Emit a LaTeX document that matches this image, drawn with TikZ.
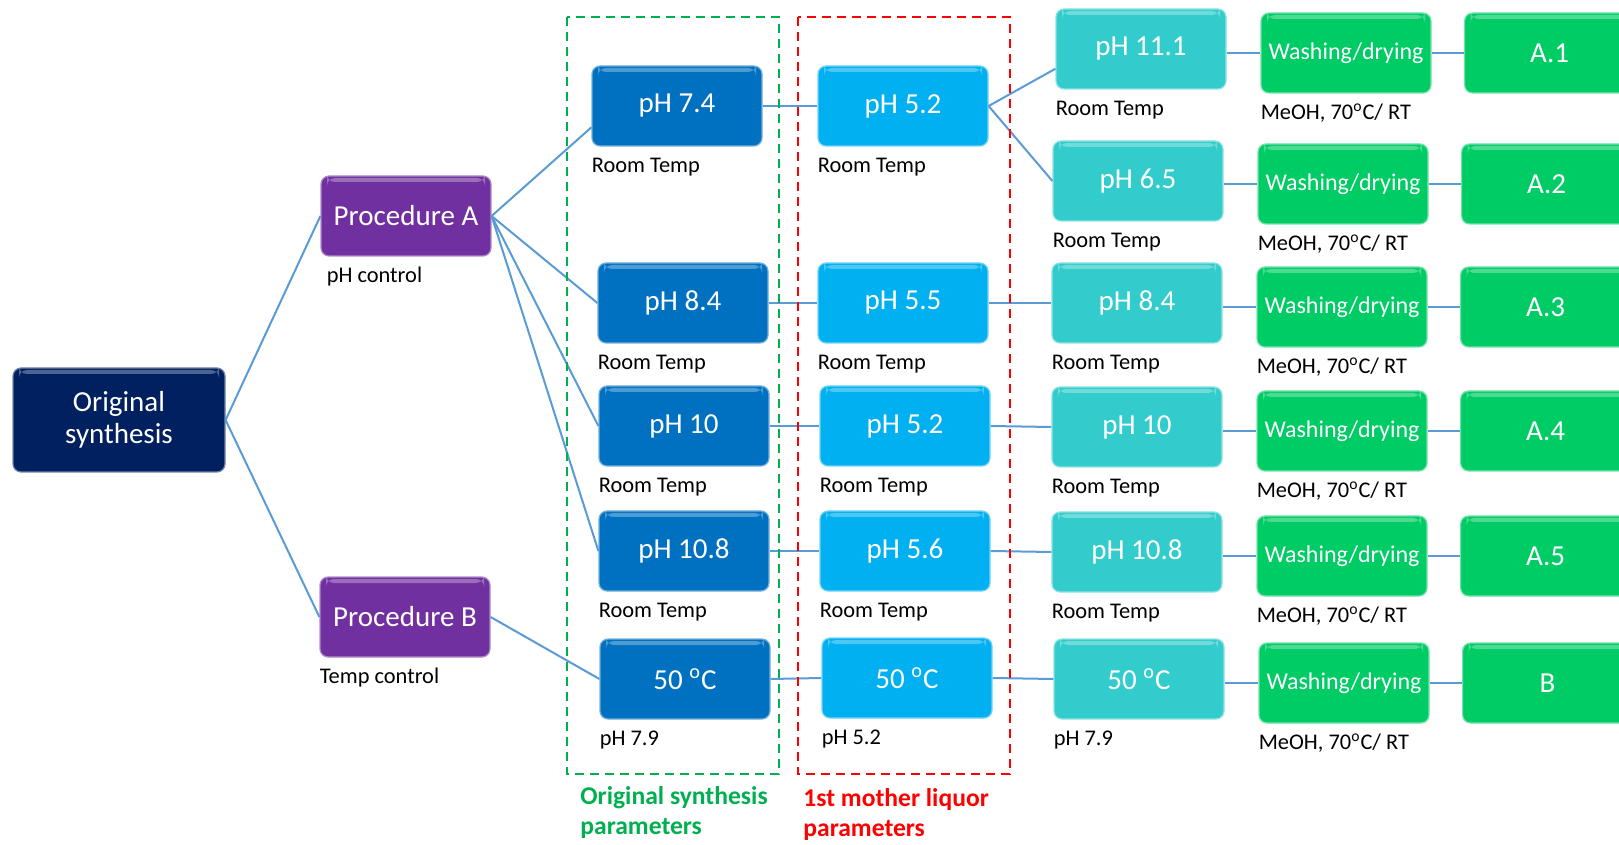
\documentclass[tikz,border=0pt]{standalone}
\usepackage{fontspec}
\setmainfont{Carlito}
\definecolor{navy}{HTML}{002060}
\definecolor{procpurple}{HTML}{7030A0}
\definecolor{origblue}{HTML}{0070C0}
\definecolor{motherblue}{HTML}{00B0F0}
\definecolor{thirdteal}{HTML}{33CCCC}
\definecolor{washgreen}{HTML}{00CC66}
\definecolor{linkblue}{HTML}{5B9BD5}
\definecolor{framegreen}{HTML}{00B050}
\definecolor{framered}{HTML}{FF0000}
\newcommand{\finlabel}[1]{\noindent\makebox[85pt]{#1}}
\tikzset{
  box/.style={rectangle, rounded corners=4pt, inner sep=0pt, fill=#1, draw=#1!55!white, line width=0.6pt,
    text=white, font=\fontsize{14.5}{16}\selectfont, minimum height=40pt,
    path picture={\fill[white, opacity=0.3] ([xshift=3pt,yshift=-1pt]path picture bounding box.north west) rectangle ([xshift=-3pt,yshift=-3pt]path picture bounding box.north east);}},
  widebox/.style={box=#1, minimum width=85pt},
  finalbox/.style={box=washgreen, anchor=west, text width=110pt, align=left},
  notetext/.style={anchor=west, inner sep=0pt, font=\fontsize{11.2}{13}\selectfont, text height=1.5ex, text depth=.25ex},
  linkline/.style={draw=linkblue, line width=1pt},
  dashframe/.style={dash pattern=on 4.5pt off 3pt, line width=1.2pt},
  captiontext/.style={anchor=west, align=left, inner sep=0pt, font=\bfseries\fontsize{12.8}{15}\selectfont},
}
\begin{document}
\begin{tikzpicture}[x=0.5pt, y=-0.5pt]
\useasboundingbox (0,0) rectangle (1619,845);
\clip (0,0) rectangle (1619,845);
% start and the two procedures
\node[box=navy, minimum width=106pt, minimum height=52pt, align=center] (orig) at (119,420) {Original\\synthesis};
\node[widebox=procpurple] (procA) at (406,216) {Procedure A};
\node[widebox=procpurple] (procB) at (405,617) {Procedure B};
\node[notetext] (procAn) at ([xshift=3pt,yshift=-10pt]procA.south west) {pH control};
\node[notetext] (procBn) at ([yshift=-10pt]procB.south west) {Temp control};
% original synthesis parameters
\foreach \r/\x/\y/\val/\cond in {1/677/106/pH 7.4/Room Temp, 3/683/303/pH 8.4/Room Temp, 4/684/426/pH 10/Room Temp,
    5/684/551/pH 10.8/Room Temp, 6/685/679/{50 \textsuperscript{o}C}/pH 7.9}{
  \node[widebox=origblue] (o\r) at (\x,\y) {\val};
  \node[notetext] (o\r n) at ([yshift=-10pt]o\r.south west) {\cond};
}
% 1st mother liquor
\foreach \r/\x/\y/\val/\cond in {1/903/106/pH 5.2/Room Temp, 3/903/303/pH 5.5/Room Temp, 4/905/426/pH 5.2/Room Temp,
    5/905/551/pH 5.6/Room Temp, 6/907/678/{50 \textsuperscript{o}C}/pH 5.2}{
  \node[widebox=motherblue] (m\r) at (\x,\y) {\val};
  \node[notetext] (m\r n) at ([yshift=-10pt]m\r.south west) {\cond};
  \draw[linkline] (o\r.east) -- (m\r.west);
}
% second step, washing and products
\foreach \r/\xc/\yc/\yw/\val/\cond/\fin in {1/1141/49/53/pH 11.1/Room Temp/A.1, 2/1138/181/184/pH 6.5/Room Temp/A.2,
    3/1137/303/307/pH 8.4/Room Temp/A.3, 4/1137/427/431/pH 10/Room Temp/A.4, 5/1137/552/556/pH 10.8/Room Temp/A.5,
    6/1139/679/683/{50 \textsuperscript{o}C}/pH 7.9/B}{
  \node[widebox=thirdteal] (c\r) at (\xc,\yc) {\val};
  \node[notetext] (c\r n) at ([yshift=-10pt]c\r.south west) {\cond};
  \node[widebox=washgreen, font=\fontsize{12}{14}\selectfont] (w\r) at (\xc+205,\yw) {Washing/drying};
  \node[notetext] (w\r n) at ([yshift=-10pt]w\r.south west) {MeOH, 70\textsuperscript{o}C/ RT};
  \node[finalbox] (f\r) at (\xc+323,\yw) {\finlabel{\fin}};
  \draw[linkline] (c\r.east |- w\r.west) -- (w\r.west);
  \draw[linkline] (w\r.east) -- (f\r.west);
}
\draw[linkline] (orig.east) -- (procA.west);
\draw[linkline] (orig.east) -- (procB.west);
\draw[linkline] (procA.east) -- (o1.194);
\foreach \r in {3,4,5} \draw[linkline] (procA.east) -- (o\r.west);
\draw[linkline] (procB.east) -- (o6.west);
\draw[linkline] (m1.east) -- (c1.193);
\draw[linkline] (m1.east) -- (c2.west);
\foreach \r in {3,4,5,6} \draw[linkline] (m\r.east) -- (c\r.west);
% parameter frames
\draw[dashframe, framegreen] (567,17) rectangle (779,774);
\draw[dashframe, framered] (798,17) rectangle (1010,774);
\node[captiontext, text=framegreen] (origcap) at (580,813) {Original synthesis\\parameters};
\node[captiontext, text=framered] (mothercap) at (803,815) {1st mother liquor\\parameters};
\end{tikzpicture}
\end{document}
